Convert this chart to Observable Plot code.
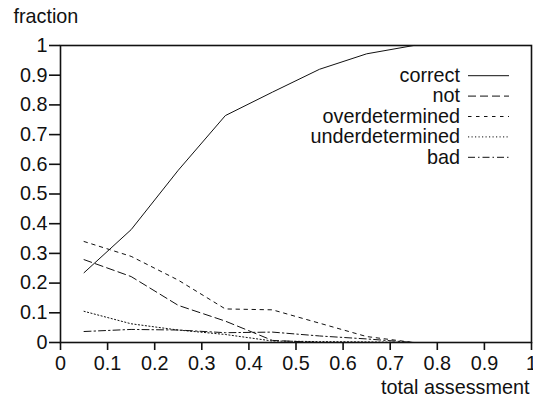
<!DOCTYPE html>
<html>
<head>
<meta charset="utf-8">
<script src="https://cdn.jsdelivr.net/npm/d3@7"></script>
<script src="https://cdn.jsdelivr.net/npm/@observablehq/plot@0.6"></script>
<style>
  html, body { margin: 0; padding: 0; background: #fff; }
  #chart svg { display: block; }
</style>
</head>
<body>
<div id="chart"></div>
<script>
// Fraction of each outcome by total assessment
const assessment      = [0.05, 0.15, 0.25, 0.35, 0.45, 0.55, 0.65, 0.75];
const correct         = [0.235, 0.38, 0.58, 0.764, 0.843, 0.92, 0.972, 1.0];
const not             = [0.279, 0.222, 0.125, 0.072, 0.007, 0, 0, 0];
const overdetermined  = [0.34, 0.29, 0.21, 0.113, 0.11, 0.065, 0.02, 0];
const underdetermined = [0.105, 0.063, 0.042, 0.027, 0.005, 0.003, 0.002, 0];
const bad             = [0.037, 0.044, 0.042, 0.033, 0.035, 0.022, 0.012, 0];

const seriesNames = ["correct", "not", "overdetermined", "underdetermined", "bad"];
const xTicks = [0, 0.1, 0.2, 0.3, 0.4, 0.5, 0.6, 0.7, 0.8, 0.9, 1];
const yTicks = [0, 0.1, 0.2, 0.3, 0.4, 0.5, 0.6, 0.7, 0.8, 0.9, 1];

const seriesValues = { correct, not, overdetermined, underdetermined, bad };
const dashPatterns = {
  correct: null,
  not: "8,4",
  overdetermined: "3.5,4.5",
  underdetermined: "1.2,2.3",
  bad: "7,3,1.5,3"
};

const rows = seriesNames.flatMap(name =>
  assessment.map((x, i) => ({ series: name, x, y: seriesValues[name][i] }))
);

// key drawn inside the upper-right corner of the frame
function key(index, scales, values, dims) {
  const g = d3.create("svg:g");
  const right = dims.width - dims.marginRight;
  seriesNames.forEach((name, i) => {
    const cy = dims.marginTop + 30.7 + i * 20.4;
    g.append("text")
      .attr("x", right - 71)
      .attr("y", cy)
      .attr("dy", "0.32em")
      .attr("text-anchor", "end")
      .attr("fill", "#111")
      .text(name);
    const ln = g.append("line")
      .attr("x1", right - 63)
      .attr("x2", right - 22)
      .attr("y1", cy)
      .attr("y2", cy)
      .attr("stroke", "#111")
      .attr("stroke-width", 1);
    if (dashPatterns[name]) ln.attr("stroke-dasharray", dashPatterns[name]);
  });
  return g.node();
}

const chart = Plot.plot({
  width: 533,
  height: 396,
  marginLeft: 60,
  marginRight: 2,
  marginTop: 45,
  marginBottom: 54,
  style: {
    fontFamily: "'Liberation Sans', Arial, Helvetica, sans-serif",
    fontSize: "19.8px",
    color: "#111",
    background: "#fff"
  },
  x: { domain: [0, 1] },
  y: { domain: [0, 1] },
  marks: [
    ...seriesNames.map(name =>
      Plot.line(rows.filter(d => d.series === name), {
        x: "x",
        y: "y",
        stroke: "#111",
        strokeWidth: 1,
        strokeDasharray: dashPatterns[name] ?? undefined
      })
    ),
    Plot.frame({ stroke: "#111", strokeWidth: 1.6 }),
    Plot.axisX(xTicks, { tickSize: 8, tickPadding: 5.5, tickFormat: d => String(d), label: null, strokeWidth: 1.6 }),
    Plot.axisY(yTicks, { tickSize: 11, tickPadding: 2, tickFormat: d => String(d), label: null, strokeWidth: 1.6 }),
    Plot.text(["fraction"], { frameAnchor: "top-left", dx: -47, dy: -23, textAnchor: "start", lineAnchor: "bottom", fill: "#111" }),
    Plot.text(["total assessment"], { frameAnchor: "bottom-right", dx: -2, dy: 51, textAnchor: "end", lineAnchor: "bottom", fill: "#111" }),
    key
  ]
});

document.getElementById("chart").appendChild(chart);
</script>
</body>
</html>
